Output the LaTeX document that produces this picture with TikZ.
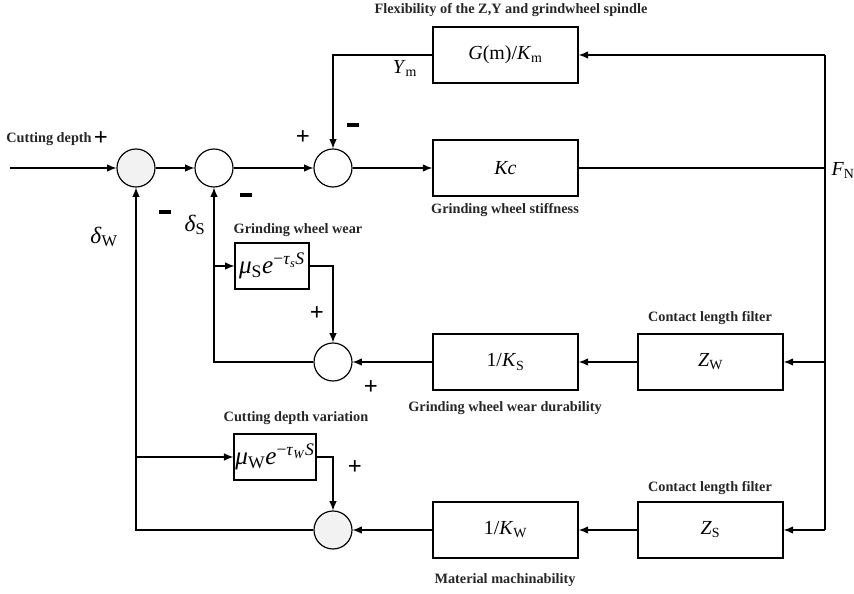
\documentclass[tikz,border=0pt]{standalone}
\usepackage{fontspec}
\setmainfont{Liberation Serif}
\usetikzlibrary{arrows.meta}
\tikzset{
  blk/.style={draw, line width=1.4pt, minimum width=4.35cm, minimum height=1.68cm, font=\fontsize{17}{20}\selectfont},
  sblk/.style={draw, line width=1.6pt, minimum width=2.2cm, minimum height=1.38cm, inner sep=1pt, font=\fontsize{21.5}{24}\selectfont},
  sumc/.style={draw, circle, line width=1pt, minimum size=1.14cm, inner sep=0pt},
  lbl/.style={font=\bfseries\fontsize{12.2}{14}\selectfont, text=black!85},
  sgn/.style={font=\bfseries\fontsize{21}{21}\selectfont},
  mns/.style={fill=black, minimum width=0.38cm, minimum height=0.11cm, inner sep=0pt},
  sym/.style={font=\fontsize{17}{20}\selectfont}
}
\begin{document}
\begin{tikzpicture}[x=0.03cm, y=-0.03cm, >={Latex[length=8pt,width=6.5pt]}, line width=1pt]
  \useasboundingbox (0,0) rectangle (854,594);
  % summing points
  \node[sumc, fill=gray!10] (s1) at (136,168) {};
  \node[sumc] (s2) at (214,168) {};
  \node[sumc] (s3) at (333,168) {};
  \node[sumc] (s4) at (333,362) {};
  \node[sumc, fill=gray!10] (s5) at (333,530) {};
  % blocks
  \node[blk] (gm) at (505.5,55) {\textit{G}(m)/\textit{K}\textsubscript{m}};
  \node[blk] (kc) at (505.5,168) {\textit{Kc}};
  \node[blk] (ks) at (505.5,362) {1/\textit{K}\textsubscript{S}};
  \node[blk] (zw) at (710.5,362) {\textit{Z}\textsubscript{W}};
  \node[blk] (kw) at (505.5,530) {1/\textit{K}\textsubscript{W}};
  \node[blk] (zs) at (710.5,530) {\textit{Z}\textsubscript{S}};
  \node[sblk] (mus) at (272,266) {\textit{μ}\textsubscript{S}\textit{e}\textsuperscript{−\textit{τ}\textsubscript{\textit{s}}\textit{S}}};
  \node[sblk] (muw) at (275,457) {\textit{μ}\textsubscript{W}\textit{e}\textsuperscript{−\textit{τ}\textsubscript{\textit{W}}\textit{S}}};
  \coordinate (in) at (10,168);
  \coordinate (rt) at (825,55);
  \coordinate (fn) at (825,168);
  \coordinate (rb) at (825,530);
  % forward path
  \draw[->] (in) -- (s1);
  \draw[->] (s1) -- (s2);
  \draw[->] (s2) -- (s3);
  \draw[->] (s3) -- (kc);
  \draw (kc) -- (fn);
  \draw (rt) -- (rb);
  \draw[->] (rt) -- (gm);
  \draw[->] (rt |- zw) -- (zw);
  \draw[->] (rb) -- (zs);
  \draw[->] (zw) -- (ks);
  \draw[->] (ks) -- (s4);
  \draw[->] (zs) -- (kw);
  \draw[->] (kw) -- (s5);
  % feedback
  \draw[->] (gm.west) -| (s3.north);
  \draw[->] (s4.west) -| (s2.south);
  \draw[->] (s5.west) -| (s1.south);
  \draw[->] (s2.south |- mus.west) -- (mus.west);
  \draw[->] (s1.south |- muw.west) -- (muw.west);
  \draw[->] (mus.east) -| (s4.north);
  \draw[->] (muw.east) -| (s5.north);
  % labels
  \node[lbl] (tflex) at (511,10) {Flexibility of the Z,Y and grindwheel spindle};
  \node[lbl] (tcut) at (49,139) {Cutting depth};
  \node[lbl] (tstiff) at (505,210) {Grinding wheel stiffness};
  \node[lbl] (twear) at (298,230) {Grinding wheel wear};
  \node[lbl] (tclf1) at (710,318) {Contact length filter};
  \node[lbl] (tdur) at (505,408) {Grinding wheel wear durability};
  \node[lbl] (tvar) at (296,418) {Cutting depth variation};
  \node[lbl] (tclf2) at (710,488) {Contact length filter};
  \node[lbl] (tmach) at (505,580) {Material machinability};
  \node[sym] (tym) at (405,68) {\textit{Y}\textsubscript{m}};
  \node[sym, anchor=west, inner sep=0pt] (tfn) at (831,170) {\textit{F}\textsubscript{N}};
  \node[sym, font=\fontsize{20}{22}\selectfont] (tdw) at (104,237) {\textit{δ}\textsubscript{W}};
  \node[sym, font=\fontsize{20}{22}\selectfont] (tds) at (195,225) {\textit{δ}\textsubscript{S}};
  % signs
  \node[sgn] (p1) at (101,139) {+};
  \node[sgn] (p2) at (303,138) {+};
  \node[mns] (m1) at (353,125) {};
  \node[mns] (m2) at (165,212) {};
  \node[mns] (m3) at (246,195) {};
  \node[sgn] (p3) at (317,314) {+};
  \node[sgn] (p4) at (371,388) {+};
  \node[sgn] (p5) at (355,468) {+};
\end{tikzpicture}
\end{document}
